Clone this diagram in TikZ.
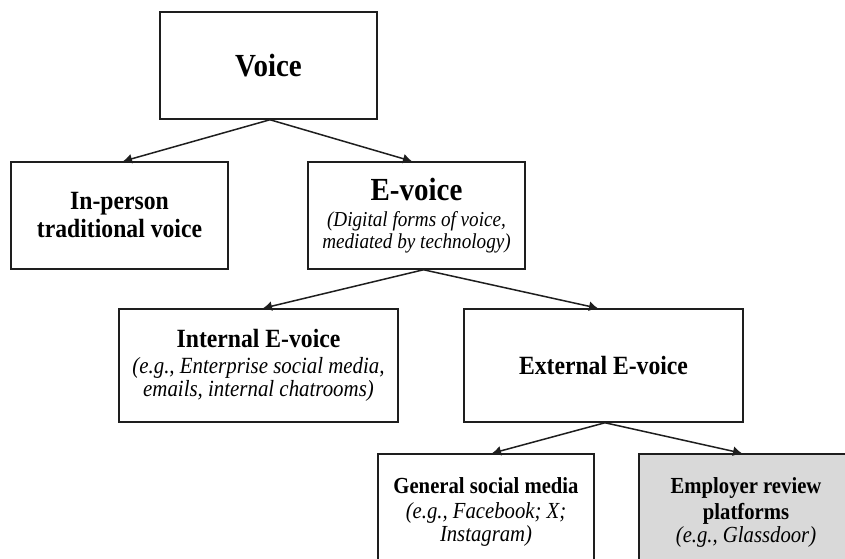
\documentclass[tikz,border=0pt]{standalone}
\usepackage{fontspec}
\setmainfont{Liberation Serif}[FakeStretch=0.9]
\usetikzlibrary{arrows.meta}
\definecolor{boxgray}{RGB}{217,217,217}
\definecolor{ink}{RGB}{30,30,30}
\tikzset{
  box/.style={draw=ink, line width=1.5pt, rectangle, align=center, inner sep=0pt, text=black},
  conn/.style={draw=ink, line width=1.5pt, -{Latex[length=9pt,width=10pt]}}
}
\newcommand{\fsz}[2]{\fontsize{#1}{#2}\selectfont}
\begin{document}
\begin{tikzpicture}[x=1pt,y=-1pt]
\useasboundingbox (0,0) rectangle (845,558);
\clip (0,0) rectangle (845,558);
\fill[white] (0,0) rectangle (845,558);

\node[box, minimum width=217pt, minimum height=107pt, font=\fsz{32.2}{34}\bfseries] (voice) at (268.5,65.5) {Voice};

\node[box, minimum width=217pt, minimum height=107pt, font=\fsz{26.3}{28}\bfseries] (inperson) at (119.5,215.5) {In-person\\traditional voice};

\node[box, minimum width=217pt, minimum height=107pt, font=\fsz{21.3}{22}] (evoice) at (416.5,215.5)
  {{\fsz{32.2}{22}\bfseries E-voice}\\[4pt]\itshape (Digital forms of voice,\\\itshape mediated by technology)};

\node[box, minimum width=279pt, minimum height=113pt, font=\fsz{23.2}{23}] (internal) at (258.5,365.5)
  {{\fsz{26.3}{23}\bfseries Internal E-voice}\\[3pt]\itshape (e.g., Enterprise social media,\\\itshape emails, internal chatrooms)};

\node[box, minimum width=279pt, minimum height=113pt, font=\fsz{26.3}{28}\bfseries] (external) at (603.5,365.5) {External E-voice};

\node[box, minimum width=216pt, minimum height=116pt, font=\fsz{23}{23}] (general) at (486,512)
  {\bfseries General social media\\[2pt]\itshape (e.g., Facebook; X;\\\itshape Instagram)};

\node[box, fill=boxgray, minimum width=214pt, minimum height=116pt, font=\fsz{23}{23}] (employer) at (746,512)
  {\bfseries Employer review\\[3pt]\bfseries platforms\\\itshape (e.g., Glassdoor)};

\draw[conn] ([xshift=1.5pt]voice.south) -- ([xshift=3.5pt]inperson.north);
\draw[conn] ([xshift=1.5pt]voice.south) -- ([xshift=-4.5pt]evoice.north);
\draw[conn] ([xshift=7pt]evoice.south) -- ([xshift=4.5pt]internal.north);
\draw[conn] ([xshift=7pt]evoice.south) -- ([xshift=-5.5pt]external.north);
\draw[conn] ([xshift=1.5pt]external.south) -- ([xshift=6pt]general.north);
\draw[conn] ([xshift=1.5pt]external.south) -- ([xshift=-4pt]employer.north);
\end{tikzpicture}
\end{document}
